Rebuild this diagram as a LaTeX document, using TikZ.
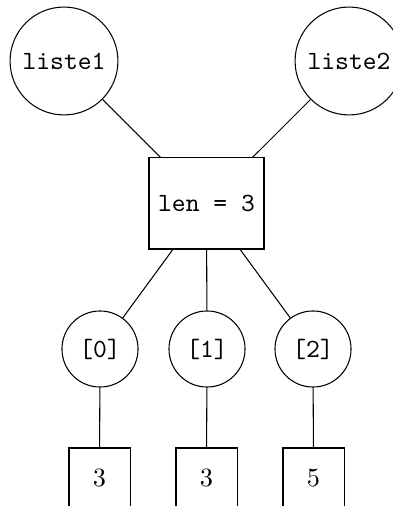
\documentclass[tikz,border=0pt]{standalone}
\begin{document}
\begin{tikzpicture}[x=0.38pt,y=-0.38pt,
  bigc/.style={draw,circle,minimum size=41pt,inner sep=0pt,font=\ttfamily},
  smallc/.style={draw,circle,minimum size=28.9pt,inner sep=0pt,font=\ttfamily},
  lenbox/.style={draw,rectangle,minimum width=43.7pt,minimum height=34.6pt,inner sep=0pt,font=\ttfamily},
  valbox/.style={draw,rectangle,minimum width=23.2pt,minimum height=22.8pt,inner sep=0pt}]
\useasboundingbox (0,0) rectangle (393,506);
\node[bigc] (l1) at (64,61) {liste1};
\node[bigc] (l2) at (349,61) {liste2};
\node[lenbox] (len) at (206.5,203.5) {len = 3};
\node[smallc] (i0) at (100,349) {[0]};
\node[smallc] (i1) at (207,349) {[1]};
\node[smallc] (i2) at (313,349) {[2]};
\node[valbox] (v0) at (99.5,478) {3};
\node[valbox] (v1) at (206.5,478) {3};
\node[valbox] (v2) at (313.5,478) {5};
\draw (l1) -- (len);
\draw (l2) -- (len);
\draw (len) -- (i0);
\draw (len) -- (i1);
\draw (len) -- (i2);
\draw (i0) -- (v0);
\draw (i1) -- (v1);
\draw (i2) -- (v2);
\end{tikzpicture}
\end{document}
